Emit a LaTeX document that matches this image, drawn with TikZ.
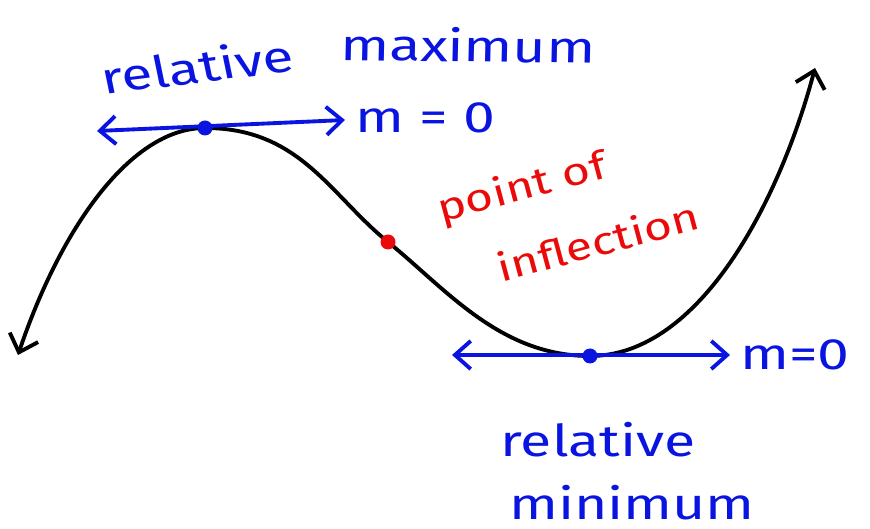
\documentclass[tikz,border=0pt]{standalone}
\usepackage{fontspec}
\setmainfont{Fira Sans}
\usepackage{tikz}
\usetikzlibrary{arrows.meta}

\definecolor{penblue}{RGB}{10,20,225}
\definecolor{penred}{RGB}{235,10,10}

\begin{document}
\begin{tikzpicture}[x=0.2mm, y=0.2mm,
	every node/.style={font=\fontsize{25}{30}\selectfont, inner sep=0pt},
	curveline/.style={line width=2.2pt, line cap=round, {Straight Barb[length=9pt,width=17pt,line width=2.2pt]}-{Straight Barb[length=9pt,width=17pt,line width=2.2pt]}},
	tangent/.style={penblue, line width=2.2pt, line cap=round, {Straight Barb[length=9pt,width=16pt,line width=2.2pt]}-{Straight Barb[length=9pt,width=16pt,line width=2.2pt]}},
	dot/.style={circle, minimum size=3mm, inner sep=0pt},
	bluetext/.style={text=penblue, xscale=1.3},
	redtext/.style={text=penred, font=\fontsize{22}{27}\selectfont}]
	\useasboundingbox (0,0) rectangle (870,529);
	% key points of the curve
	\coordinate (lend) at (18,174);
	\coordinate (rmax) at (205,401);
	\coordinate (infl) at (388,287);
	\coordinate (rmin) at (590,173);
	\coordinate (rend) at (815,461);
	\draw[curveline] (lend) .. controls (60,299) and (130,401) .. (rmax)
		.. controls (300,401) and (330,334) .. (infl)
		.. controls (446,240) and (500,173) .. (rmin)
		.. controls (700,173) and (780,329) .. (rend);
	% tangent lines
	\coordinate (maxL) at (97,398);
	\coordinate (maxR) at (345,409);
	\coordinate (minL) at (452,174);
	\coordinate (minR) at (730,174);
	\draw[tangent] (maxL) -- (maxR);
	\draw[tangent] (minL) -- (minR);
	\node[dot, fill=penblue] (maxdot) at (rmax) {};
	\node[dot, fill=penblue] (mindot) at (rmin) {};
	\node[dot, fill=penred] (infldot) at (infl) {};
	% labels
	\node[bluetext, anchor=west] (slopeMax) at (355,411) {m = 0};
	\node[bluetext, anchor=west] (slopeMin) at (740,174) {m=0};
	\node[bluetext, rotate=9] (relMaxA) at (197,463) {relative};
	\node[bluetext, rotate=-1] (relMaxB) at (468,484) {maximum};
	\node[redtext, rotate=15, xscale=1.25] (inflA) at (522,340) {point of};
	\node[redtext, rotate=15, xscale=1.25] (inflB) at (598,288) {inflection};
	\node[bluetext] (relMinA) at (598,89) {relative};
	\node[bluetext] (relMinB) at (632,26) {minimum};
\end{tikzpicture}
\end{document}
